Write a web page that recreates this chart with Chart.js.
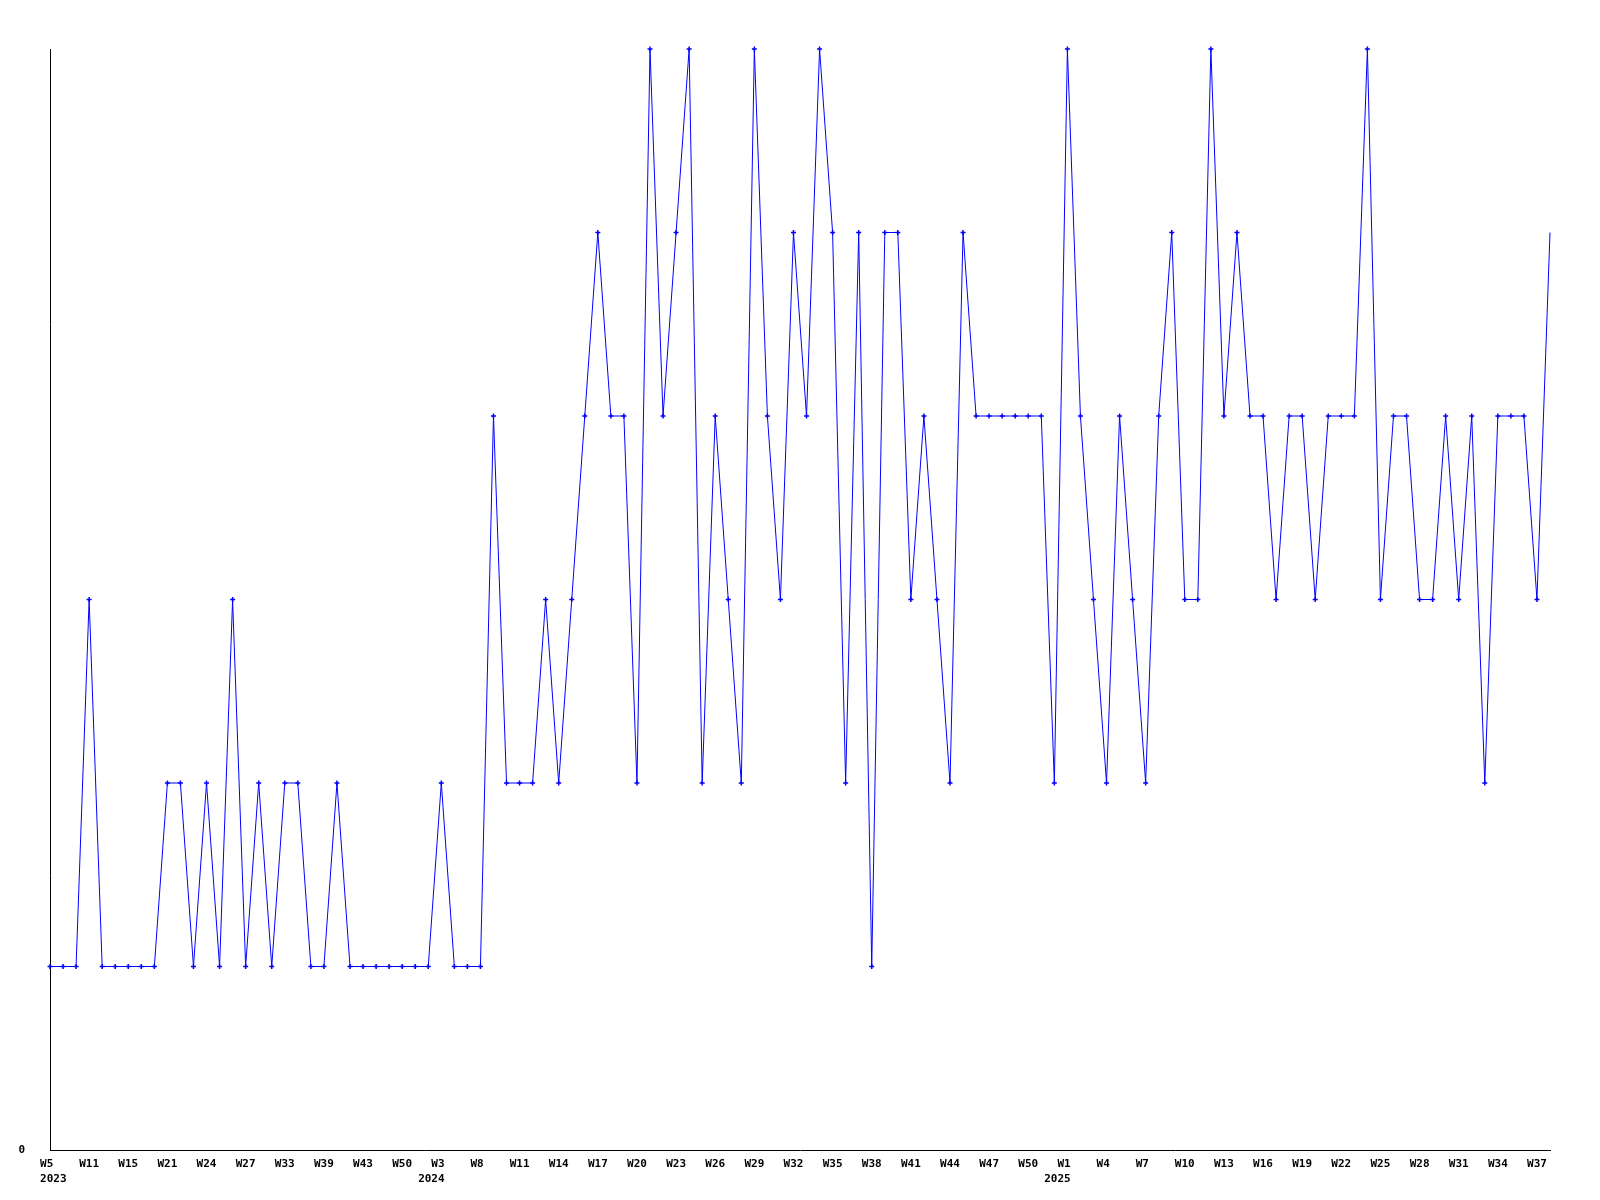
<!DOCTYPE html>
<html>
<head>
<meta charset="utf-8">
<script src="https://cdn.jsdelivr.net/npm/chart.js@4/dist/chart.umd.min.js"></script>
<style>
    body { margin: 0; background: #fff; }
    #grafico { display: block; }
</style>
</head>
<body>
<canvas id="grafico" width="1600" height="1200"></canvas>
<script>
// Semanas de cada ano (só as semanas com registro)
const semanas2023 = [5, 7, 9, 11, 12, 13, 15, 17, 19, 21, 22, 23, 24, 25, 26, 27, 29, 31, 33, 35,
    37, 39, 40, 42, 43, 45, 47, 50, 51, 52];
const semanas2024 = [3, 5, 6, 8, 9, 10, 11, 12, 13, 14, 15, 16, 17, 18, 19, 20, 21, 22, 23, 24,
    25, 26, 27, 28, 29, 30, 31, 32, 33, 34, 35, 36, 37, 38, 39, 40, 41, 42, 43, 44,
    45, 46, 47, 48, 49, 50, 51, 52];
const semanas2025 = [1, 2, 3, 4, 5, 6, 7, 8, 9, 10, 11, 12, 13, 14, 15, 16, 17, 18, 19, 20,
    21, 22, 23, 24, 25, 26, 27, 28, 29, 30, 31, 32, 33, 34, 35, 36, 37, 38];

// Valores por semana
const valores = [
    1, 1, 1, 3, 1, 1, 1, 1, 1, 2, 2, 1, 2, 1, 3, 1, 2, 1, 2, 2,
    1, 1, 2, 1, 1, 1, 1, 1, 1, 1, 2, 1, 1, 1, 4, 2, 2, 2, 3, 2,
    3, 4, 5, 4, 4, 2, 6, 4, 5, 6, 2, 4, 3, 2, 6, 4, 3, 5, 4, 6,
    5, 2, 5, 1, 5, 5, 3, 4, 3, 2, 5, 4, 4, 4, 4, 4, 4, 2, 6, 4,
    3, 2, 4, 3, 2, 4, 5, 3, 3, 6, 4, 5, 4, 4, 3, 4, 4, 3, 4, 4,
    4, 6, 3, 4, 4, 3, 3, 4, 3, 4, 2, 4, 4, 4, 3, 5
];

const ticksY = [0];

// Montar rótulos e anos
const rotulos = [];
const anos = [];
semanas2023.forEach(s => { rotulos.push('W' + s); anos.push('2023'); });
semanas2024.forEach(s => { rotulos.push('W' + s); anos.push('2024'); });
semanas2025.forEach(s => { rotulos.push('W' + s); anos.push('2025'); });

const fonteEixo = { family: 'DejaVu Sans Mono', size: 11, weight: 'bold', lineHeight: 1.4 };

// Raio dos pontos (o último não tem marcador)
const raios = valores.map((v, i) => i === valores.length - 1 ? 0 : 2.5);

document.addEventListener('DOMContentLoaded', function() {
    const ctx = document.getElementById('grafico').getContext('2d');

    new Chart(ctx, {
        type: 'line',
        data: {
            labels: rotulos,
            datasets: [{
                data: valores,
                borderColor: '#0000ff',
                backgroundColor: '#0000ff',
                borderWidth: 1,
                tension: 0,
                fill: false,
                clip: false,
                pointStyle: 'cross',
                pointRadius: raios,
                pointBorderWidth: 1.5,
                pointBorderColor: '#0000ff',
                pointBackgroundColor: '#0000ff'
            }]
        },
        options: {
            responsive: false,
            animation: false,
            devicePixelRatio: 1,
            layout: {
                padding: { top: 49, right: 50, left: 0, bottom: 0 }
            },
            scales: {
                x: {
                    offset: false,
                    grid: { display: false, drawTicks: false },
                    border: { display: true, color: '#000', width: 1 },
                    afterFit: function(escala) { escala.height = 50; },
                    ticks: {
                        autoSkip: false,
                        maxRotation: 0,
                        minRotation: 0,
                        padding: 6,
                        color: '#000',
                        font: fonteEixo,
                        callback: function(valor, indice) {
                            if (indice % 3 !== 0) return null;
                            // espaços só para alinhar como no original
                            const semana = rotulos[indice].padEnd(3, ' ');
                            const anterior = indice - 3;
                            if (anterior < 0) return [semana, ' ' + anos[indice]];
                            if (anos[anterior] !== anos[indice]) return [semana, anos[indice] + '   '];
                            return semana;
                        }
                    }
                },
                y: {
                    min: 0,
                    max: 6,
                    grid: { display: false, drawTicks: false },
                    border: { display: true, color: '#000', width: 1 },
                    afterFit: function(escala) { escala.width = 50; },
                    ticks: {
                        stepSize: 1,
                        padding: 25,
                        color: '#000',
                        font: fonteEixo,
                        callback: function(valor) {
                            return ticksY.includes(valor) ? String(valor) : null;
                        }
                    }
                }
            },
            plugins: {
                legend: { display: false },
                tooltip: { enabled: false }
            }
        }
    });
});
</script>
</body>
</html>
